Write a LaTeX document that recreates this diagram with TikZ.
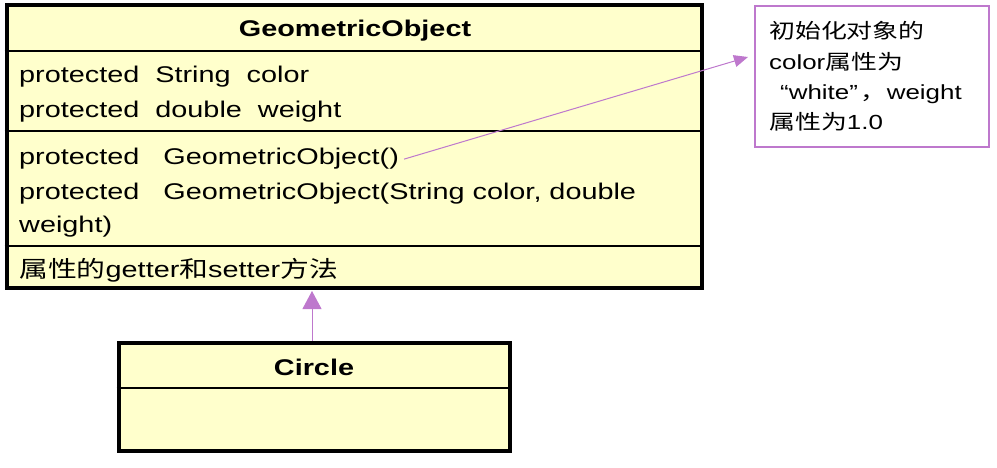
\documentclass[tikz,border=0pt]{standalone}
\usepackage{fontspec}
\setmainfont{Liberation Sans}[FakeStretch=1.27]
\newfontfamily\cjk{Noto Sans CJK SC}[FakeStretch=1.27]
\usetikzlibrary{arrows.meta}
\definecolor{umlfill}{HTML}{FFFFCC}
\definecolor{umlpurple}{RGB}{190,120,205}
\begin{document}
\begin{tikzpicture}[x=1pt,y=-1pt,
  classbox/.style={draw=black,line width=4pt,fill=umlfill,rectangle,inner sep=0pt},
  divider/.style={draw=black,line width=2pt},
  notebox/.style={draw=umlpurple,line width=1.2pt,fill=white,rectangle,inner sep=0pt},
  mtext/.style={anchor=base west,inner sep=0pt,font=\fontsize{22.7}{26}\selectfont},
  ttext/.style={anchor=base,inner sep=0pt,font=\fontsize{22.7}{26}\selectfont\bfseries},
  ntext/.style={anchor=base west,inner sep=0pt,font=\fontsize{20.4}{24}\selectfont},
  link/.style={draw=umlpurple,line width=1pt},
]
\useasboundingbox (0,0) rectangle (997,468);
% GeometricObject class
\node[classbox,minimum width=695.5pt,minimum height=282.5pt] (go) at (354.25,146.75) {};
\draw[divider] (go.west |- 0,51) -- (go.east |- 0,51);
\draw[divider] (go.west |- 0,131) -- (go.east |- 0,131);
\draw[divider] (go.west |- 0,246) -- (go.east |- 0,246);
\node[ttext] (gotitle) at (355,37) {GeometricObject};
\node[mtext] (a1) at (19,83) {protected\ \ String\ \ color};
\node[mtext] (a2) at (19,118) {protected\ \ double\ \ weight};
\node[mtext] (m1) at (19,165) {protected\ \ \ GeometricObject()};
\node[mtext] (m2) at (19,200) {protected\ \ \ GeometricObject(String color, double};
\node[mtext] (m3) at (19,233) {weight)};
\node[mtext] (m4) at (19,277) {{\cjk 属性的}getter{\cjk 和}setter{\cjk 方法}};
% Circle class
\node[classbox,minimum width=391.5pt,minimum height=108.5pt] (circ) at (314.25,396.75) {};
\draw[divider] (circ.west |- 0,388) -- (circ.east |- 0,388);
\node[ttext] (ctitle) at (314,375) {Circle};
% note
\node[notebox,minimum width=234pt,minimum height=141pt] (note) at (872,76.5) {};
\node[ntext] (n1) at (769,39) {\cjk 初始化对象的};
\node[ntext] (n2) at (769,70) {color{\cjk 属性为}};
\node[ntext] (n3) at (769,100) {\hspace*{11pt}“white”\hspace{3pt}{\cjk ，}weight};
\node[ntext] (n4) at (769,130) {{\cjk 属性为}1.0};
% connectors
\coordinate (notetip) at (748,57);
\draw[link,-{Triangle[length=14pt,width=12pt]}] ([xshift=5pt]m1.east) -- (notetip);
\coordinate (inhtip) at (312,291);
\draw[link,-{Triangle[length=18pt,width=19pt]}] (inhtip |- circ.north) -- (inhtip);
\end{tikzpicture}
\end{document}
